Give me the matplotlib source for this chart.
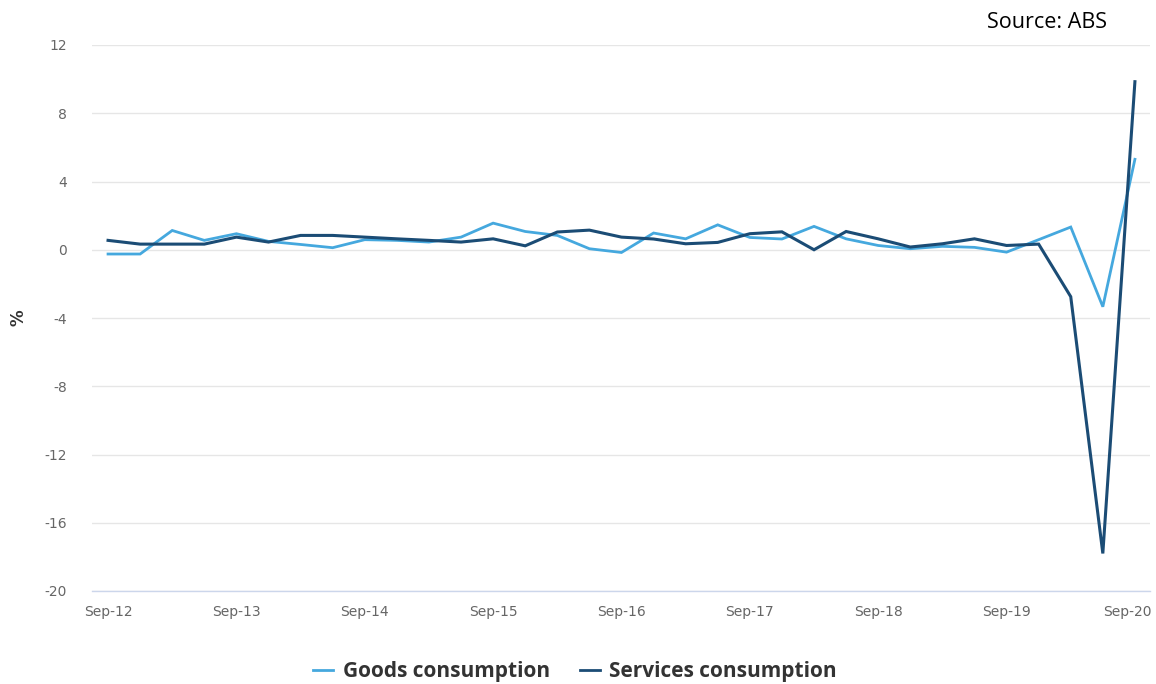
import matplotlib
matplotlib.use("Agg")
import matplotlib.pyplot as plt
from matplotlib.lines import Line2D
import matplotlib.transforms as mtransforms

quarters = ["Sep-12", "Dec-12", "Mar-13", "Jun-13", "Sep-13", "Dec-13", "Mar-14", "Jun-14",
            "Sep-14", "Dec-14", "Mar-15", "Jun-15", "Sep-15", "Dec-15", "Mar-16", "Jun-16",
            "Sep-16", "Dec-16", "Mar-17", "Jun-17", "Sep-17", "Dec-17", "Mar-18", "Jun-18",
            "Sep-18", "Dec-18", "Mar-19", "Jun-19", "Sep-19", "Dec-19", "Mar-20", "Jun-20",
            "Sep-20"]

goods = [-0.25, -0.25, 1.13, 0.55, 0.94, 0.49, 0.31, 0.12, 0.59, 0.55, 0.45, 0.74,
         1.56, 1.07, 0.84, 0.06, -0.16, 0.98, 0.64, 1.46, 0.72, 0.63, 1.37, 0.64,
         0.25, 0.06, 0.20, 0.14, -0.14, 0.59, 1.33, -3.34, 5.3]

services = [0.55, 0.33, 0.33, 0.33, 0.74, 0.45, 0.84, 0.84, 0.74, 0.64, 0.55, 0.45,
            0.64, 0.23, 1.04, 1.15, 0.74, 0.63, 0.35, 0.43, 0.94, 1.05, 0.0, 1.07,
            0.64, 0.16, 0.35, 0.64, 0.25, 0.33, -2.75, -17.8, 9.85]

yticks = [12, 8, 4, 0, -4, -8, -12, -16, -20]
xtick_labels = ["Sep-12", "Sep-13", "Sep-14", "Sep-15", "Sep-16", "Sep-17", "Sep-18", "Sep-19", "Sep-20"]

goods_color = "#45a8de"
services_color = "#1b4c75"

fig = plt.figure(figsize=(11.56, 6.84), dpi=100)
ax = fig.add_axes([92/1156, 1 - 591/684, (1150 - 92)/1156, (591 - 45)/684])

x = list(range(len(quarters)))
ax.plot(x, goods, color=goods_color, lw=2.0, solid_joinstyle="miter", zorder=3)
ax.plot(x, services, color=services_color, lw=2.2, solid_joinstyle="miter", zorder=4)

ax.set_ylim(-20, 12)
ax.set_xlim(-0.5, 32.47)
ax.set_yticks(yticks)
ax.set_yticklabels([str(v) for v in yticks])
ax.set_xticks([quarters.index(l) for l in xtick_labels])
ax.set_xticklabels(xtick_labels)

ax.grid(axis="y", color="#e6e6e6", lw=1)
ax.set_axisbelow(True)
for s in ["top", "right", "left"]:
    ax.spines[s].set_visible(False)
ax.spines["bottom"].set_color("#ccd6eb")
ax.spines["bottom"].set_linewidth(1)
ax.tick_params(axis="both", length=0, colors="#666666", labelsize=10)
ax.tick_params(axis="y", pad=18)
ax.tick_params(axis="x", pad=10)

last = ax.get_xticklabels()[-1]
last.set_transform(last.get_transform() + mtransforms.ScaledTranslation(-8/100, 0, fig.dpi_scale_trans))

fig.text(18/1156, 1 - 318/684, "%", rotation=90, ha="center", va="center",
         fontsize=12, fontweight="bold", color="#333333")
fig.text(1107/1156, 1 - 22/684, "Source: ABS", ha="right", va="center",
         fontsize=15.5, color="black", family="Open Sans")

handles = [Line2D([0], [0], color=goods_color, lw=2),
           Line2D([0], [0], color=services_color, lw=2)]
leg = fig.legend(handles, ["Goods consumption", "Services consumption"],
                 loc="center", bbox_to_anchor=(575/1156, 1 - 672/684), ncol=2,
                 frameon=False, handlelength=0.95, handletextpad=0.45, columnspacing=1.45,
                 prop={"size": 15, "weight": "bold", "family": "Open Sans"})
for t in leg.get_texts():
    t.set_color("#333333")

fig.savefig("out.png", dpi=100)
